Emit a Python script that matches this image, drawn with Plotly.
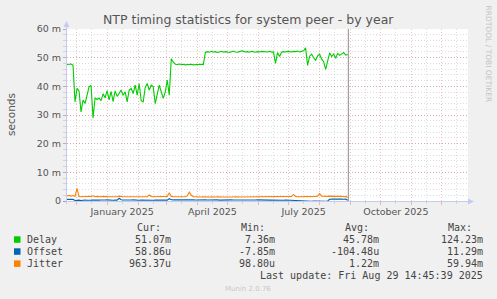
import pandas as pd
import plotly.graph_objects as go

# ---------------- data ----------------
dates = pd.date_range("2024-11-22", "2025-08-29", freq="2D")

delay_ms = [
    47.6, 47.8, 47.8, 47.4, 34.6, 39.3, 38.4, 31.1, 35.2, 34.0,
    37.5, 39.8, 40.3, 29.0, 36.0, 35.4, 35.9, 35.0, 37.4, 36.0,
    38.5, 35.3, 38.2, 34.7, 38.4, 36.5, 37.5, 38.7, 36.9, 38.1,
    34.6, 38.7, 39.3, 37.5, 40.4, 36.9, 41.0, 35.0, 34.6, 39.5,
    41.0, 38.7, 40.4, 39.9, 34.0, 37.5, 40.4, 38.1, 35.8, 38.0,
    42.2, 36.9, 49.6, 48.4, 47.7, 47.6, 47.8, 47.6, 47.7, 47.5,
    47.6, 47.5, 47.7, 47.5, 47.6, 47.5, 47.6, 47.7, 47.6, 51.8,
    52.1, 51.9, 52.2, 52.0, 52.1, 51.8, 52.0, 52.2, 51.9, 52.1,
    52.0, 51.8, 52.1, 52.3, 52.0, 51.9, 52.1, 52.4, 52.2, 52.0,
    52.1, 51.9, 52.2, 52.0, 51.9, 52.1, 52.0, 52.2, 52.1, 51.9,
    52.0, 52.2, 51.9, 52.0, 48.0, 51.8, 50.4, 51.9, 52.1, 52.0,
    52.2, 52.1, 52.0, 52.2, 52.1, 52.3, 52.0, 52.2, 52.4, 53.4,
    47.3, 50.5, 51.2, 50.0, 49.1, 50.6, 51.2, 49.5, 48.6, 45.9,
    49.2, 51.7, 50.4, 51.3, 49.8, 51.5, 50.8, 51.3, 51.8, 50.9,
    51.1,
]

offset_ms = [
    0.55, 0.60, 0.50, 0.55, 0.20, 0.35, 0.30, 0.15, 0.30, 0.35,
    0.25, 0.40, 0.30, 0.35, 0.25, 0.35, 0.30, 0.35, 0.25, 0.35,
    0.40, 0.30, 0.35, 0.25, 0.35, 0.30, 0.95, 0.45, 0.35, 0.30,
    0.35, 0.25, 0.35, 0.40, 0.30, 0.35, 0.25, 0.35, 0.30, 0.35,
    0.40, 0.30, 0.35, 0.25, 0.35, 0.30, 0.40, 0.35, 0.25, 0.35,
    0.30, 0.80, 0.45, 0.40, 0.45, 0.40, 0.45, 0.35, 0.45, 0.40,
    0.45, 0.55, 0.40, 0.45, 0.35, 0.40, 0.45, 0.35, 0.40, 0.45,
    0.35, 0.40, 0.35, 0.45, 0.35, 0.40, 0.30, 0.35, 0.40, 0.35,
    0.30, 0.35, 0.40, 0.35, 0.30, 0.35, 0.40, 0.30, 0.35, 0.35,
    0.30, 0.40, 0.35, 0.30, 0.35, 0.40, 0.35, 0.30, 0.35, 0.30,
    0.35, 0.30, 0.35, 0.30, 0.35, 0.25, 0.35, 0.30, 0.25, 0.35,
    0.30, 0.25, 0.30, 0.25, 0.30, 0.10, -0.05, -0.10, -0.10, -0.05,
    -0.10, -0.15, -0.10, -0.05, -0.10, -0.15, -0.10, -0.10, -0.05, -0.10,
    0.00, 0.60, 0.65, 0.70, 0.60, 0.65, 0.70, 0.65, 0.60, 0.65,
    0.30,
]

jitter_ms = [
    1.8, 1.9, 1.7, 1.9, 1.6, 4.4, 1.5, 1.5, 1.5, 1.5,
    1.6, 1.5, 1.6, 1.8, 1.5, 1.6, 1.5, 1.5, 1.6, 1.5,
    1.5, 1.5, 1.5, 1.5, 1.4, 1.5, 1.7, 1.5, 1.5, 1.5,
    1.5, 1.5, 1.5, 1.4, 1.5, 1.5, 1.5, 1.5, 1.5, 1.6,
    1.5, 2.1, 1.6, 1.5, 1.5, 1.4, 1.5, 1.5, 1.5, 1.4,
    1.6, 2.9, 1.6, 1.5, 1.5, 1.5, 1.5, 1.5, 1.4, 1.5,
    1.8, 3.1, 2.0, 1.5, 1.5, 1.4, 1.5, 1.4, 1.5, 1.4,
    1.5, 1.4, 1.5, 1.4, 1.4, 1.5, 1.4, 1.5, 1.4, 1.4,
    1.5, 1.4, 1.4, 1.5, 1.4, 1.5, 1.4, 1.4, 1.5, 1.4,
    1.4, 1.5, 1.4, 1.5, 1.4, 1.4, 1.5, 1.4, 1.4, 1.5,
    1.4, 1.4, 1.5, 1.4, 1.5, 1.4, 1.5, 1.4, 1.5, 1.4,
    1.5, 1.5, 1.6, 2.3, 1.6, 1.5, 1.5, 1.4, 1.5, 1.5,
    1.6, 1.5, 1.6, 1.5, 1.6, 1.7, 2.6, 1.7, 1.6, 1.7,
    1.6, 1.7, 1.6, 1.7, 1.6, 1.6, 1.7, 1.6, 1.5, 1.6,
    1.2,
]

series_names = ["Delay", "Offset", "Jitter"]
series_colors = ["#00CC00", "#0066B3", "#FF8000"]
cur_vals = ["51.07m", "58.86u", "963.37u"]
min_vals = ["7.36m", "-7.85m", "98.80u"]
avg_vals = ["45.78m", "-104.48u", "1.22m"]
max_vals = ["124.23m", "11.29m", "59.94m"]

y_tickvals_ms = [0, 10, 20, 30, 40, 50, 60]
y_ticktext = ["0", "10 m", "20 m", "30 m", "40 m", "50 m", "60 m"]

x_range = ["2024-11-22", "2025-12-27"]
month_starts = pd.date_range("2024-12-01", "2025-12-01", freq="MS")
mid_months = [d + pd.Timedelta(days=15) for d in month_starts]
labelled = {"2025-01": "January 2025", "2025-04": "April 2025",
            "2025-07": "July 2025", "2025-10": "October 2025"}
mid_text = [labelled.get(d.strftime("%Y-%m"), "") for d in mid_months]
now_time = "2025-08-29 14:45"

title = "NTP timing statistics for system peer - by year"
last_update = "Last update: Fri Aug 29 14:45:39 2025"

# ---------------- geometry helpers ----------------
W, H = 497, 299
ML, MR, MT, MB = 67, 29, 29, 98
PW, PH = W - ML - MR, H - MT - MB


def px(x):
    return (x - ML) / PW


def py(y):
    return (H - MB - y) / PH


fig = go.Figure()
for name, vals, col in zip(series_names, [delay_ms, offset_ms, jitter_ms], series_colors):
    fig.add_trace(go.Scatter(
        x=dates, y=[v / 1000 for v in vals], mode="lines", name=name,
        line=dict(color=col, width=1.1), hoverinfo="skip", cliponaxis=True))

TXT = "#555555"
RED = "rgba(200,70,70,0.33)"
GRAY = "rgba(150,150,150,0.32)"

fig.update_layout(
    width=W, height=H, margin=dict(l=ML, r=MR, t=MT, b=MB, pad=0),
    paper_bgcolor="#F0F0F0", plot_bgcolor="#FFFFFF", showlegend=False,
    font=dict(family="DejaVu Sans", color=TXT),
    xaxis=dict(
        type="date", range=x_range, tickmode="array",
        tickvals=mid_months, ticktext=mid_text,
        showgrid=True, gridcolor=GRAY, griddash="1px,2px", gridwidth=1,
        ticks="outside", ticklen=2, tickcolor=GRAY,
        tickfont=dict(size=9.5, color=TXT), zeroline=False, showline=False,
        minor=dict(tickmode="array", tickvals=month_starts, showgrid=True,
                   gridcolor=RED, griddash="1px,2px", gridwidth=1,
                   ticks="outside", ticklen=3, tickcolor=RED),
    ),
    yaxis=dict(
        range=[0, 0.06], tickmode="array",
        tickvals=[v / 1000 for v in y_tickvals_ms], ticktext=y_ticktext,
        showgrid=True, gridcolor=RED, griddash="1px,2px", gridwidth=1,
        ticks="outside", ticklen=3, tickcolor=RED,
        tickfont=dict(size=9.5, color=TXT), zeroline=False, showline=False,
        minor=dict(dtick=0.002, showgrid=True, gridcolor=GRAY,
                   griddash="1px,2px", gridwidth=1,
                   ticks="outside", ticklen=3, tickcolor=GRAY),
    ),
)

AX = "#C3CBF3"
shapes = [
    # "now" rule
    dict(type="line", xref="x", yref="paper", x0=now_time, x1=now_time,
         y0=0, y1=1, line=dict(color="#8C8C8C", width=1), layer="between"),
    # axes with arrows
    dict(type="line", xref="paper", yref="paper", x0=px(66.5), x1=px(66.5),
         y0=py(204), y1=py(24), line=dict(color=AX, width=1), layer="between"),
    dict(type="line", xref="paper", yref="paper", x0=px(63), x1=px(470),
         y0=py(201.5), y1=py(201.5), line=dict(color=AX, width=1), layer="between"),
    dict(type="path", xref="paper", yref="paper",
         path=f"M {px(63.5)} {py(27)} L {px(69.5)} {py(27)} L {px(66.5)} {py(21)} Z",
         fillcolor=AX, line=dict(width=0), layer="above"),
    dict(type="path", xref="paper", yref="paper",
         path=f"M {px(468)} {py(198.5)} L {px(468)} {py(204.5)} L {px(474)} {py(201.5)} Z",
         fillcolor=AX, line=dict(width=0), layer="above"),
]

ann = []


def add_text(text, x, y, anchor="left", size=10, color="#444444",
             family="DejaVu Sans Mono", angle=0):
    ann.append(dict(text=text, xref="paper", yref="paper", x=px(x), y=py(y),
                    xanchor=anchor, yanchor="middle", showarrow=False,
                    textangle=angle, borderpad=0,
                    font=dict(family=family, size=size, color=color)))


add_text(title, 248, 19.5, anchor="center", size=12.5, color=TXT, family="DejaVu Sans")
add_text("seconds", 11, 115, anchor="center", size=10.5, color=TXT,
         family="DejaVu Sans", angle=-90)
add_text("RRDTOOL / TOBI OETIKER", 488.5, 54, anchor="center", size=7.5,
         color="#C4C4C4", family="DejaVu Sans", angle=90)

row_y = [239.3, 251.3, 263.4]
header_y = 227.5
for hdr, xl in zip(["Cur:", "Min:", "Avg:", "Max:"], [136, 240, 343.5, 447]):
    add_text(hdr, xl, header_y)
for i, name in enumerate(series_names):
    y = row_y[i]
    add_text(name, 26, y)
    add_text(cur_vals[i], 172, y, anchor="right")
    add_text(min_vals[i], 275.5, y, anchor="right")
    add_text(avg_vals[i], 380, y, anchor="right")
    add_text(max_vals[i], 483.5, y, anchor="right")
    shapes.append(dict(type="rect", xref="paper", yref="paper",
                       x0=px(14), x1=px(20.5), y0=py(y + 3.5), y1=py(y - 3),
                       fillcolor=series_colors[i], line=dict(width=0)))
add_text(last_update, 483.5, 275.4, anchor="right")
add_text("Munin 2.0.76", 248, 288.5, anchor="center", size=7, color="#C8C8C8",
         family="DejaVu Sans")

fig.update_layout(shapes=shapes, annotations=ann)
fig.write_html("out.html")
